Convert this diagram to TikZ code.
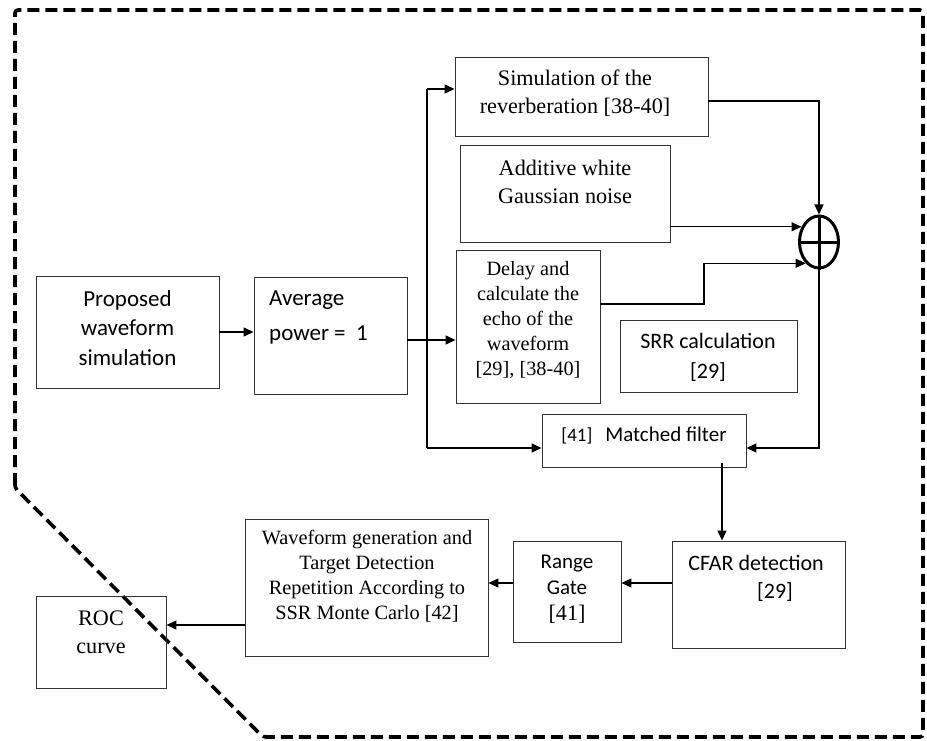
\documentclass[tikz,border=0pt]{standalone}
\usepackage{fontspec}
\setmainfont{Liberation Serif}
\newfontfamily\cfont{Carlito}
\usetikzlibrary{arrows.meta,shapes.geometric}
\tikzset{
  box/.style={draw=black!80, line width=0.9pt, rectangle, inner sep=0pt},
  arr/.style={line width=1.2pt, -{Triangle[length=10pt,width=9pt]}},
  ln/.style={line width=1.2pt},
  tms/.style={font=\fontsize{22.2}{28}\selectfont, align=center, inner sep=0pt},
  tmss/.style={font=\fontsize{20.3}{25}\selectfont, align=center, inner sep=0pt},
  cal/.style={font=\cfont\fontsize{23}{29.5}\selectfont, align=center, inner sep=0pt},
  border/.style={line width=3.6pt, dash pattern=on 12pt off 6pt, rounded corners=3pt}
}
\begin{document}
\begin{tikzpicture}[x=1pt,y=-1pt]
\useasboundingbox (0,0) rectangle (927,741);
\draw[border] (15,488) -- (15,10) -- (923,10) -- (923,737) -- (263,737) -- cycle;

% boxes
\node[box, minimum width=183pt, minimum height=112pt] (prop) at (127.5,332) {};
\node[box, minimum width=153pt, minimum height=117pt] (avg) at (330.5,335.5) {};
\node[box, minimum width=253pt, minimum height=79pt] (sim) at (581.5,96.5) {};
\node[box, minimum width=210pt, minimum height=97pt] (awgn) at (565,193.5) {};
\node[box, minimum width=144pt, minimum height=153pt] (delay) at (528,326.5) {};
\node[box, minimum width=177pt, minimum height=72pt] (srr) at (708.5,356) {};
\node[box, minimum width=204pt, minimum height=53pt] (mf) at (644,440.5) {};
\node[draw, ellipse, line width=3pt, minimum width=39pt, minimum height=52pt, inner sep=0pt] (sum) at (819,242) {};
\draw[line width=3pt] (sum.north) -- (sum.south) (sum.west) -- (sum.east);
\node[box, minimum width=173pt, minimum height=107pt] (cfar) at (758.5,594.5) {};
\node[box, minimum width=108pt, minimum height=101pt] (rg) at (567,591.5) {};
\node[box, minimum width=243pt, minimum height=137pt] (wg) at (366.5,587.5) {};
\node[box, minimum width=130pt, minimum height=92pt] (roc) at (101,642) {};

% texts
\node[cal] (propt) at (127.5,328) {Proposed\\waveform\\simulation};
\node[cal, anchor=west, align=left, font=\cfont\fontsize{23}{35}\selectfont] (avgt) at (269,317) {Average\\power =\ \ 1};
\node[tms] (simt) at (575,93) {Simulation of the\\reverberation [38-40]};
\node[tms] (awgnt) at (565,182) {Additive white\\Gaussian noise};
\node[tmss] (delayt) at (528,320) {Delay and\\calculate the\\echo of the\\waveform\\{}[29], [38-40]};
\node[cal, font=\cfont\fontsize{22}{30}\selectfont] (srrt) at (708,357) {SRR calculation\\{}[29]};
\node[cal, font=\cfont\fontsize{21}{30}\selectfont] (mft) at (644,436) {{\fontsize{19}{20}\selectfont[41]}\hspace{13pt}Matched filter};
\node[cal, font=\cfont\fontsize{22}{30}\selectfont] (cfart1) at (756,563) {CFAR detection};
\node[cal, font=\cfont\fontsize{22}{30}\selectfont] (cfart2) at (775,592) {[29]};
\node[cal, font=\cfont\fontsize{21}{26}\selectfont] (rgt) at (567,575) {Range\\Gate};
\node[tms] (rgt2) at (567,614) {[41]};
\node[tmss] (wgt) at (367,576) {Waveform generation and\\Target Detection\\Repetition According to\\SSR Monte Carlo [42]};
\node[tms] (roct) at (101,632) {ROC\\curve};

% helper coordinates
\coordinate (j) at (427,340);
\coordinate (jt) at (427,89);
\coordinate (jb) at (427,448);
\coordinate (dk) at (704,304);
\coordinate (mc) at (722,0);
\coordinate (cr) at (0,583);
\coordinate (wr) at (0,625);

% connectors
\draw[arr] (prop.east) -- (avg.west |- prop.east);
\draw[arr] (avg.east |- j) -- (delay.west |- j);
\draw[ln] (jt) -- (jb);
\draw[arr] (jt) -- (sim.west |- jt);
\draw[arr] (jb) -- (mf.west |- jb);
\draw[arr] ([yshift=-4.5pt]sim.east) -| (sum.north);
\draw[arr] (awgn.east |- sum.139.5) -- (sum.139.5);
\draw[arr] (delay.east |- dk) -- (dk) |- (sum.238);
\draw[arr] (sum.south) |- (mf.east |- jb);
\draw[arr] ([yshift=4pt]mf.south -| mc) -- (cfar.north -| mc);
\draw[arr] (cfar.west |- cr) -- (rg.east |- cr);
\draw[arr] (rg.west |- cr) -- (wg.east |- cr);
\draw[arr] (wg.west |- wr) -- (roc.east |- wr);
\end{tikzpicture}
\end{document}
